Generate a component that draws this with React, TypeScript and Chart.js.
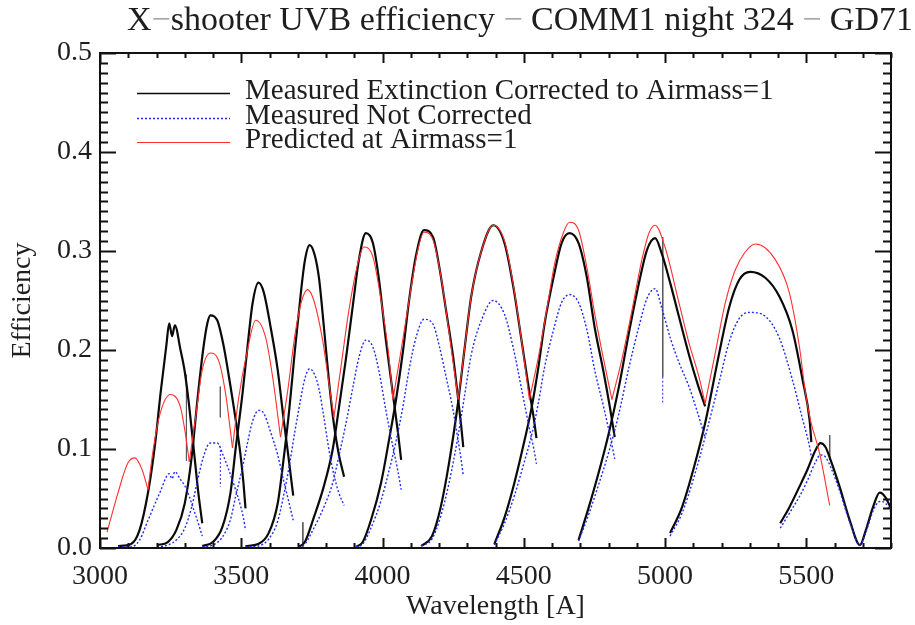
import React, { useEffect, useRef } from "react";
import { Chart, registerables } from "chart.js";

Chart.register(...registerables);

// ---------------- Axis ranges & ticks ----------------
const X_MIN = 3000;
const X_MAX = 5800;
const Y_MIN = 0;
const Y_MAX = 0.5;
const X_MAJOR_TICKS = [3000, 3500, 4000, 4500, 5000, 5500];
const Y_MAJOR_TICKS = [0, 0.1, 0.2, 0.3, 0.4, 0.5];
const X_MINOR_STEP = 100;
const Y_MINOR_STEP = 0.01;

// ---------------- Text ----------------
const TITLE_PARTS = ["X", "\u2212", "shooter UVB efficiency ", "\u2212", " COMM1 night 324 ", "\u2212", " GD71"];
const X_TITLE = "Wavelength [A]";
const Y_TITLE = "Efficiency";
const LEGEND_LABELS = [
  "Measured Extinction Corrected to Airmass=1",
  "Measured Not Corrected",
  "Predicted at Airmass=1",
];

// ---------------- Echelle orders (wavelength [A], efficiency) ----------------
const O1_WL = [3064, 3110, 3140, 3170, 3195, 3215, 3235, 3245, 3255, 3265, 3285, 3300, 3315, 3330, 3348, 3362];
const O1_CORR = [0.002, 0.004, 0.018, 0.056, 0.105, 0.158, 0.205, 0.227, 0.214, 0.225, 0.2, 0.178, 0.145, 0.105, 0.056, 0.025];
const O1_RAW = [0.001, 0.001, 0.008, 0.028, 0.045, 0.058, 0.072, 0.075, 0.07, 0.077, 0.069, 0.063, 0.053, 0.04, 0.025, 0.012];

const O2_WL = [3202, 3240, 3270, 3300, 3325, 3345, 3365, 3380, 3391, 3415, 3437, 3457, 3480, 3497, 3508, 3515];
const O2_CORR = [0.003, 0.006, 0.018, 0.045, 0.093, 0.15, 0.2, 0.227, 0.235, 0.23, 0.205, 0.172, 0.13, 0.095, 0.065, 0.04];
const O2_RAW = [0.001, 0.003, 0.008, 0.02, 0.042, 0.068, 0.091, 0.103, 0.106, 0.106, 0.093, 0.078, 0.059, 0.043, 0.03, 0.018];

const O3_WL = [3362, 3400, 3433, 3462, 3480, 3504, 3522, 3540, 3561, 3580, 3604, 3629, 3650, 3668, 3684];
const O3_CORR = [0.002, 0.006, 0.021, 0.056, 0.1, 0.155, 0.203, 0.247, 0.268, 0.258, 0.223, 0.18, 0.13, 0.09, 0.053];
const O3_RAW = [0.001, 0.003, 0.011, 0.029, 0.052, 0.081, 0.106, 0.128, 0.139, 0.136, 0.117, 0.094, 0.068, 0.047, 0.028];

const O4_WL = [3515, 3560, 3597, 3629, 3650, 3670, 3690, 3710, 3725, 3742, 3760, 3775, 3792, 3810, 3828, 3845, 3864];
const O4_CORR = [0.002, 0.004, 0.015, 0.045, 0.09, 0.14, 0.2, 0.255, 0.29, 0.306, 0.296, 0.273, 0.225, 0.17, 0.125, 0.095, 0.072];
const O4_RAW = [0.001, 0.002, 0.009, 0.027, 0.053, 0.083, 0.118, 0.15, 0.171, 0.181, 0.175, 0.161, 0.133, 0.1, 0.074, 0.056, 0.043];

const O5_WL = [3703, 3725, 3757, 3792, 3824, 3845, 3870, 3895, 3917, 3941, 3966, 3988, 4012, 4037, 4055, 4066];
const O5_CORR = [0.001, 0.006, 0.031, 0.062, 0.1, 0.14, 0.19, 0.245, 0.292, 0.318, 0.308, 0.27, 0.21, 0.155, 0.116, 0.089];
const O5_RAW = [0.001, 0.004, 0.02, 0.041, 0.066, 0.092, 0.125, 0.162, 0.193, 0.21, 0.203, 0.178, 0.139, 0.102, 0.077, 0.059];

const O6_WL = [3906, 3930, 3959, 3995, 4023, 4048, 4073, 4094, 4119, 4147, 4179, 4201, 4225, 4250, 4268, 4279, 4286];
const O6_CORR = [0.001, 0.006, 0.028, 0.066, 0.109, 0.15, 0.2, 0.25, 0.296, 0.321, 0.314, 0.284, 0.24, 0.193, 0.15, 0.122, 0.102];
const O6_RAW = [0.001, 0.004, 0.02, 0.048, 0.078, 0.108, 0.144, 0.18, 0.213, 0.231, 0.226, 0.204, 0.173, 0.139, 0.108, 0.088, 0.073];

const O7_WL = [4137, 4175, 4205, 4235, 4268, 4290, 4314, 4350, 4392, 4432, 4463, 4492, 4517, 4535, 4545];
const O7_CORR = [0.002, 0.012, 0.04, 0.085, 0.148, 0.2, 0.254, 0.3, 0.326, 0.308, 0.264, 0.21, 0.163, 0.132, 0.111];
const O7_RAW = [0.002, 0.009, 0.031, 0.065, 0.114, 0.153, 0.195, 0.23, 0.25, 0.236, 0.202, 0.161, 0.125, 0.101, 0.085];

const O8_WL = [4396, 4432, 4467, 4503, 4528, 4552, 4574, 4606, 4634, 4662, 4694, 4723, 4751, 4783, 4805, 4822];
const O8_CORR = [0.004, 0.031, 0.066, 0.109, 0.142, 0.183, 0.227, 0.274, 0.308, 0.318, 0.308, 0.274, 0.223, 0.177, 0.142, 0.112];
const O8_RAW = [0.003, 0.025, 0.053, 0.088, 0.114, 0.147, 0.183, 0.221, 0.248, 0.256, 0.248, 0.221, 0.18, 0.142, 0.114, 0.09];

const O9_WL = [4694, 4730, 4765, 4801, 4837, 4872, 4908, 4936, 4965, 4989, 5020, 5050, 5085, 5115, 5142];
const O9_CORR = [0.008, 0.041, 0.076, 0.116, 0.163, 0.217, 0.268, 0.301, 0.313, 0.297, 0.266, 0.233, 0.195, 0.166, 0.143];
const O9_RAW = [0.007, 0.034, 0.064, 0.097, 0.136, 0.182, 0.224, 0.252, 0.262, 0.242, 0.211, 0.187, 0.163, 0.137, 0.112];

const O10_WL = [5018, 5060, 5103, 5142, 5192, 5227, 5263, 5302, 5355, 5405, 5451, 5487, 5512, 5518];
const O10_CORR = [0.015, 0.041, 0.082, 0.126, 0.197, 0.243, 0.271, 0.279, 0.273, 0.254, 0.22, 0.17, 0.129, 0.107];
const O10_RAW = [0.012, 0.035, 0.072, 0.112, 0.168, 0.208, 0.232, 0.238, 0.234, 0.212, 0.17, 0.13, 0.102, 0.092];

const O11_WL = [5408, 5440, 5476, 5504, 5533, 5550, 5568, 5586, 5618, 5654, 5690, 5711, 5736, 5760, 5781, 5800];
const O11_CORR = [0.025, 0.041, 0.062, 0.079, 0.099, 0.106, 0.102, 0.089, 0.062, 0.028, 0.003, 0.018, 0.041, 0.056, 0.051, 0.04];
const O11_RAW = [0.02, 0.035, 0.052, 0.068, 0.087, 0.094, 0.092, 0.082, 0.058, 0.026, 0.003, 0.016, 0.037, 0.047, 0.045, 0.036];

// ---------------- Predicted at airmass 1 ----------------
const PRED_WL = [
  3025, 3064, 3099, 3124, 3149, 3170, 3188, 3213, 3249, 3284, 3302, 3316, 3337, 3362, 3391, 3419, 3444, 3469,
  3490, 3522, 3551, 3586, 3611, 3639, 3665, 3690, 3712, 3735, 3757, 3788, 3810, 3828, 3853, 3881, 3913, 3934,
  3966, 3995, 4020, 4037, 4066, 4094, 4125, 4147, 4179, 4207, 4236, 4268, 4290, 4314, 4350, 4392, 4432, 4463,
  4492, 4520, 4552, 4581, 4610, 4641, 4662, 4694, 4723, 4751, 4783, 4812, 4847, 4883, 4918, 4943, 4965, 5000,
  5050, 5085, 5120, 5142, 5178, 5213, 5249, 5284, 5320, 5391, 5440, 5476, 5497, 5515, 5547, 5583,
];
const PRED_EFF = [
  0.016, 0.056, 0.086, 0.091, 0.079, 0.059, 0.099, 0.136, 0.155, 0.143, 0.116, 0.087, 0.129, 0.18, 0.197, 0.19, 0.157, 0.101,
  0.15, 0.2, 0.23, 0.213, 0.173, 0.112, 0.16, 0.215, 0.248, 0.261, 0.25, 0.21, 0.167, 0.132, 0.183, 0.24, 0.288, 0.304,
  0.294, 0.25, 0.2, 0.15, 0.2, 0.25, 0.301, 0.319, 0.311, 0.274, 0.217, 0.15, 0.2, 0.254, 0.3, 0.326, 0.31, 0.266,
  0.21, 0.15, 0.193, 0.24, 0.288, 0.319, 0.329, 0.321, 0.284, 0.237, 0.19, 0.15, 0.19, 0.24, 0.291, 0.318, 0.326, 0.304,
  0.247, 0.207, 0.173, 0.146, 0.197, 0.247, 0.281, 0.299, 0.307, 0.291, 0.258, 0.203, 0.157, 0.129, 0.096, 0.043,
];

// ---------------- Narrow spikes (cosmics / sky lines) ----------------
const SPIKE_WL = [3306, 3426, 3718, 4992, 5583];
const SPIKE_HI = [0.175, 0.163, 0.026, 0.314, 0.114];
const SPIKE_LO = [0.088, 0.132, 0.0, 0.173, 0.089];
const RAW_SPIKE_WL = [3426, 4992];
const RAW_SPIKE_HI = [0.099, 0.173];
const RAW_SPIKE_LO = [0.062, 0.147];

const ORDERS = [
  [O1_WL, O1_CORR, O1_RAW],
  [O2_WL, O2_CORR, O2_RAW],
  [O3_WL, O3_CORR, O3_RAW],
  [O4_WL, O4_CORR, O4_RAW],
  [O5_WL, O5_CORR, O5_RAW],
  [O6_WL, O6_CORR, O6_RAW],
  [O7_WL, O7_CORR, O7_RAW],
  [O8_WL, O8_CORR, O8_RAW],
  [O9_WL, O9_CORR, O9_RAW],
  [O10_WL, O10_CORR, O10_RAW],
  [O11_WL, O11_CORR, O11_RAW],
];

const BLACK = "#0a0a0a";
const BLUE = "#1f2cf0";
const RED = "#ff3030";
const SPIKE = "#5a5a5a";
const TEXT = "#1e1e1e";
const FONT = "'Liberation Serif', 'Times New Roman', serif";

const zip = (xs: number[], ys: number[]) => xs.map((x, i) => ({ x, y: ys[i] }));

function splitAtMinima(xs: number[], ys: number[]) {
  const arcs: { x: number; y: number }[][] = [];
  let cur: { x: number; y: number }[] = [];
  for (let i = 0; i < xs.length; i++) {
    cur.push({ x: xs[i], y: ys[i] });
    if (i > 0 && i < xs.length - 1 && ys[i] < ys[i - 1] && ys[i] < ys[i + 1]) {
      arcs.push(cur);
      cur = [{ x: xs[i], y: ys[i] }];
    }
  }
  if (cur.length > 1) arcs.push(cur);
  return arcs;
}

const decorPlugin = {
  id: "decor",
  afterDatasetsDraw(chart: any) {
    const { ctx, chartArea: a, scales } = chart;
    const xs = scales.x;
    const ys = scales.y;
    ctx.save();
    // frame
    ctx.strokeStyle = "#111";
    ctx.lineWidth = 2;
    ctx.strokeRect(a.left, a.top, a.right - a.left, a.bottom - a.top);
    // x ticks (inward, bottom and top)
    ctx.beginPath();
    for (let v = X_MIN; v <= X_MAX + 1e-6; v += X_MINOR_STEP) {
      const px = Math.round(xs.getPixelForValue(v)) + 0.5;
      const major = X_MAJOR_TICKS.includes(v);
      const len = major ? 10 : 5;
      ctx.moveTo(px, a.bottom);
      ctx.lineTo(px, a.bottom - len);
      ctx.moveTo(px, a.top);
      ctx.lineTo(px, a.top + len);
    }
    // y ticks (inward, left and right)
    for (let k = 0; k <= Math.round((Y_MAX - Y_MIN) / Y_MINOR_STEP); k++) {
      const v = Y_MIN + k * Y_MINOR_STEP;
      const py = Math.round(ys.getPixelForValue(v)) + 0.5;
      const major = k % 10 === 0;
      const len = major ? 16 : 8;
      ctx.moveTo(a.left, py);
      ctx.lineTo(a.left + len, py);
      ctx.moveTo(a.right, py);
      ctx.lineTo(a.right - len, py);
    }
    ctx.stroke();

    // legend
    const lx0 = 137;
    const lx1 = 230;
    const rows = [93, 118, 142];
    const styles = [
      { c: BLACK, w: 1.5, d: [] as number[] },
      { c: BLUE, w: 1.3, d: [2, 2] },
      { c: RED, w: 1.2, d: [] as number[] },
    ];
    ctx.font = `29px ${FONT}`;
    ctx.textBaseline = "alphabetic";
    ctx.textAlign = "left";
    rows.forEach((ry, i) => {
      ctx.beginPath();
      ctx.strokeStyle = styles[i].c;
      ctx.lineWidth = styles[i].w;
      ctx.setLineDash(styles[i].d);
      ctx.moveTo(lx0, ry + 0.5);
      ctx.lineTo(lx1, ry + 0.5);
      ctx.stroke();
      ctx.setLineDash([]);
      ctx.fillStyle = TEXT;
      ctx.fillText(LEGEND_LABELS[i], 245, ry + 6);
    });

    // title
    ctx.font = `34px ${FONT}`;
    const widths = TITLE_PARTS.map((p) => ctx.measureText(p).width);
    const total = widths.reduce((s, w) => s + w, 0);
    let tx = 520 - total / 2;
    TITLE_PARTS.forEach((p, i) => {
      ctx.fillStyle = p === "\u2212" ? "#a8a8a8" : TEXT;
      ctx.fillText(p, tx, 30);
      tx += widths[i];
    });
    ctx.restore();
  },
};

export default function App() {
  const ref = useRef<HTMLCanvasElement | null>(null);

  useEffect(() => {
    if (!ref.current) return;
    const common = {
      pointRadius: 0,
      fill: false,
      cubicInterpolationMode: "monotone" as const,
      spanGaps: false,
    };
    const datasets: any[] = [];
    splitAtMinima(PRED_WL, PRED_EFF).forEach((arc) =>
      datasets.push({ ...common, data: arc, borderColor: RED, borderWidth: 1.1, order: 1 })
    );
    ORDERS.forEach(([wl, corr, raw]) => {
      datasets.push({ ...common, data: zip(wl, raw), borderColor: BLUE, borderWidth: 1.4, borderDash: [2, 2], order: 2 });
      datasets.push({ ...common, data: zip(wl, corr), borderColor: BLACK, borderWidth: 2.2, order: 3 });
    });
    SPIKE_WL.forEach((w, i) =>
      datasets.push({ ...common, cubicInterpolationMode: "default", tension: 0, data: [{ x: w, y: SPIKE_HI[i] }, { x: w, y: SPIKE_LO[i] }], borderColor: SPIKE, borderWidth: 1, order: 3 })
    );
    RAW_SPIKE_WL.forEach((w, i) =>
      datasets.push({ ...common, cubicInterpolationMode: "default", tension: 0, data: [{ x: w, y: RAW_SPIKE_HI[i] }, { x: w, y: RAW_SPIKE_LO[i] }], borderColor: BLUE, borderDash: [2, 2], borderWidth: 1, order: 2 })
    );

    const tickFont = { family: FONT, size: 28 };
    const chart = new Chart(ref.current, {
      type: "line",
      data: { datasets },
      options: {
        animation: false,
        responsive: false,
        devicePixelRatio: 1,
        events: [],
        layout: { padding: { top: 53, right: 24, left: 0, bottom: 0 } },
        plugins: { legend: { display: false }, tooltip: { enabled: false }, title: { display: false } },
        scales: {
          x: {
            type: "linear",
            min: X_MIN,
            max: X_MAX,
            afterFit: (s: any) => {
              s.height = 77;
            },
            afterBuildTicks: (s: any) => {
              s.ticks = X_MAJOR_TICKS.map((v) => ({ value: v }));
            },
            grid: { display: false, drawTicks: false },
            border: { display: false },
            ticks: {
              font: tickFont,
              color: TEXT,
              padding: 12,
              maxRotation: 0,
              autoSkip: false,
              callback: (v: any) => String(v),
            },
            title: { display: true, text: X_TITLE, font: tickFont, color: TEXT, padding: { top: 0, bottom: 2 } },
          },
          y: {
            type: "linear",
            min: Y_MIN,
            max: Y_MAX,
            afterFit: (s: any) => {
              s.width = 100;
            },
            afterBuildTicks: (s: any) => {
              s.ticks = Y_MAJOR_TICKS.map((v) => ({ value: v }));
            },
            grid: { display: false, drawTicks: false },
            border: { display: false },
            ticks: {
              font: tickFont,
              color: TEXT,
              padding: 8,
              autoSkip: false,
              callback: (v: any) => Number(v).toFixed(1),
            },
            title: { display: true, text: Y_TITLE, font: tickFont, color: TEXT, padding: { top: 6, bottom: 0 } },
          },
        },
      },
      plugins: [decorPlugin],
    } as any);
    return () => chart.destroy();
  }, []);

  return (
    <div style={{ position: "fixed", left: 0, top: 0, width: 915, height: 625, background: "#fff" }}>
      <canvas ref={ref} width={915} height={625} style={{ display: "block" }} />
    </div>
  );
}
